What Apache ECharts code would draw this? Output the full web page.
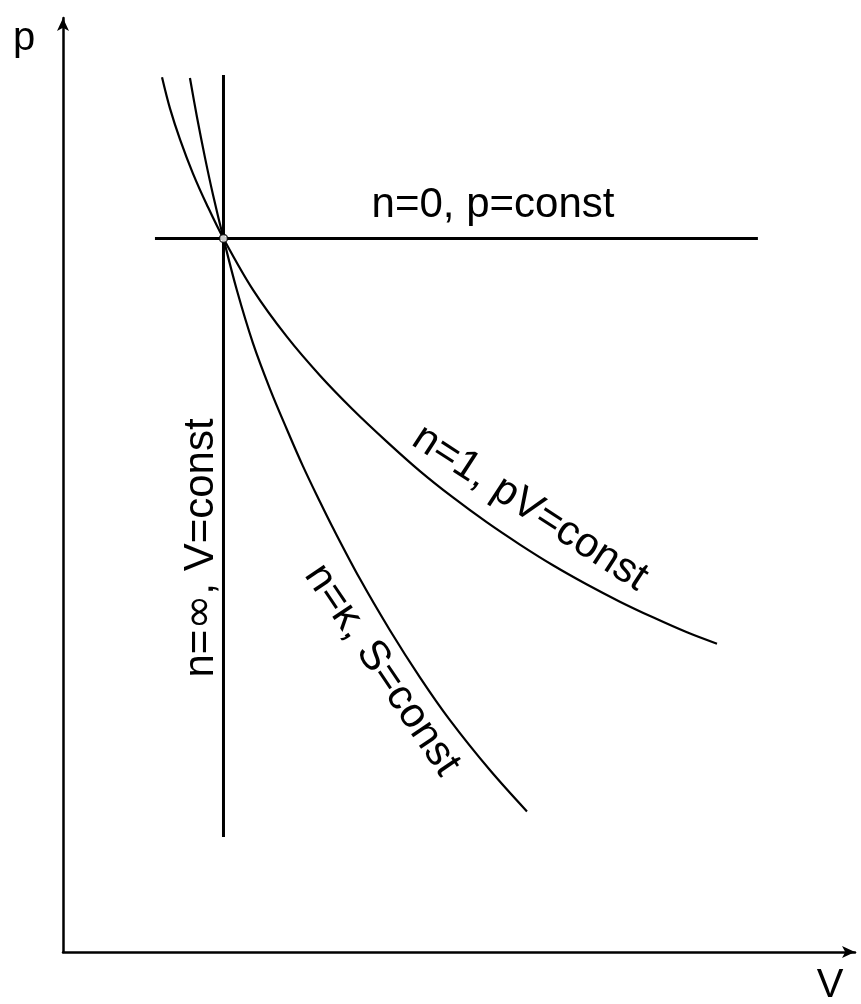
<!DOCTYPE html>
<html>
<head>
<meta charset="utf-8">
<script src="https://cdn.jsdelivr.net/npm/echarts@6/dist/echarts.min.js"></script>
<style>
html,body{margin:0;padding:0;background:#fff;}
#chart{width:861px;height:1004px;}
</style>
</head>
<body>
<div id="chart"></div>
<script>
// Axis ranges (schematic units: state point at V=1, p=10)
const vRange = [0, 4.935];
const pRange = [0, 13.09];

// n = ∞ (isochoric, V = const)
const isochoreV = [1, 1];
const isochoreP = [12.29, 1.61];

// n = 0 (isobaric, p = const)
const isobarV = [0.573, 4.33];
const isobarP = [10, 10];

// n = 1 (isothermal, pV = const)
const isothermV = [0.617, 0.667, 0.729, 0.810, 0.897, 1.000, 1.184, 1.396, 1.601, 1.807, 2.019, 2.224, 2.430, 2.642, 2.847, 3.053, 3.265, 3.470, 3.676, 3.888, 4.075];
const isothermP = [12.26, 11.82, 11.39, 10.91, 10.47, 10.00, 9.28, 8.62, 8.08, 7.60, 7.15, 6.74, 6.37, 6.02, 5.71, 5.42, 5.15, 4.91, 4.69, 4.48, 4.32];

// n = κ (isentropic, S = const)
const adiabatV = [0.791, 0.835, 0.885, 0.935, 1.000, 1.084, 1.184, 1.290, 1.396, 1.495, 1.601, 1.676, 1.850, 2.037, 2.224, 2.411, 2.660, 2.891];
const adiabatP = [12.25, 11.70, 11.13, 10.61, 10.00, 9.27, 8.53, 7.89, 7.32, 6.81, 6.31, 5.97, 5.23, 4.51, 3.85, 3.25, 2.55, 1.97];

// common state point
const stateV = [1];
const stateP = [10];

// texts
const axisNameP = 'p';
const axisNameV = 'V';
const labelIsobar = 'n=0, p=const';
const labelIsochore = ['n=', '∞', ', V=const'];
const labelIsotherm = 'n=1, pV=const';
const labelAdiabat = 'n=κ, S=const';

const zip = (a, b) => a.map((v, i) => [v, b[i]]);

const FAMILY = '"Liberation Sans", Arial, Helvetica, sans-serif';
const FONT = '42px ' + FAMILY;

const chart = echarts.init(document.getElementById('chart'), null, {renderer: 'canvas'});

function txt(text, x, y, rotDeg, extra) {
  const style = Object.assign({text: text, x: 0, y: 0, font: FONT, fill: '#000', align: 'center', verticalAlign: 'middle'}, extra || {});
  return {type: 'text', x: x, y: y, rotation: (rotDeg || 0) * Math.PI / 180, z: 100, style: style};
}

const isochoreRich = '{a|' + labelIsochore[0] + '}{b|' + labelIsochore[1] + '}{a|' + labelIsochore[2] + '}';

const option = {
  backgroundColor: '#ffffff',
  animation: false,
  grid: {left: 63, right: 6, top: 18, bottom: 52, containLabel: false},
  xAxis: {
    type: 'value', min: vRange[0], max: vRange[1],
    axisLine: {show: true, onZero: false, symbol: ['none', 'arrow'], symbolSize: [9, 13], lineStyle: {color: '#000', width: 2.5}},
    axisTick: {show: false}, axisLabel: {show: false}, splitLine: {show: false}
  },
  yAxis: {
    type: 'value', min: pRange[0], max: pRange[1],
    axisLine: {show: true, onZero: false, symbol: ['none', 'arrow'], symbolSize: [9, 13], lineStyle: {color: '#000', width: 2.5}},
    axisTick: {show: false}, axisLabel: {show: false}, splitLine: {show: false}
  },
  series: [
    {type: 'line', data: zip(isochoreV, isochoreP), showSymbol: false, lineStyle: {color: '#000', width: 3}},
    {type: 'line', data: zip(isobarV, isobarP), showSymbol: false, lineStyle: {color: '#000', width: 3}},
    {type: 'line', data: zip(isothermV, isothermP), showSymbol: false, smooth: 0.35, lineStyle: {color: '#000', width: 2.2}},
    {type: 'line', data: zip(adiabatV, adiabatP), showSymbol: false, smooth: 0.35, lineStyle: {color: '#000', width: 2.2}},
    {type: 'scatter', data: zip(stateV, stateP), symbol: 'circle', symbolSize: 8, z: 10,
      itemStyle: {color: '#fff', borderColor: '#000', borderWidth: 1.5}}
  ],
  graphic: [
    txt(axisNameP, 24, 39, 0, {font: '40px ' + FAMILY}),
    txt(axisNameV, 830, 986, 0, {font: '40px ' + FAMILY}),
    txt(labelIsobar, 493, 205, 0),
    txt(isochoreRich, 201, 548, 90, {
      rich: {a: {font: FONT, fill: '#000'}, b: {font: '42px "DejaVu Sans", sans-serif', fill: '#000'}}
    }),
    txt(labelIsotherm, 530, 508, -33),
    txt(labelAdiabat, 382, 670, -56)
  ]
};
chart.setOption(option);
</script>
</body>
</html>
